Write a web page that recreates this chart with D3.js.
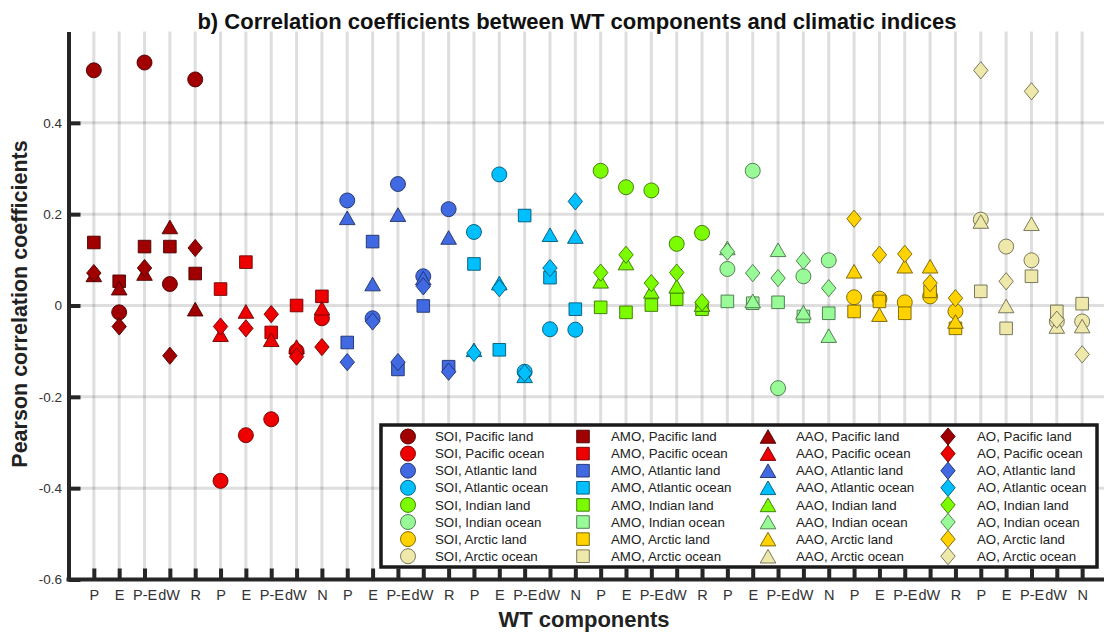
<!DOCTYPE html>
<html>
<head>
<meta charset="utf-8">
<script src="https://cdn.jsdelivr.net/npm/d3@7"></script>
<style>
  html, body { margin: 0; padding: 0; background: #fff; }
  svg { display: block; font-family: "Liberation Sans", Arial, Helvetica, sans-serif; }
</style>
</head>
<body>
<svg id="chart" width="1104" height="632"></svg>
<script>
// ---------- data ----------
const regions = ["Pacific land", "Pacific ocean", "Atlantic land", "Atlantic ocean",
                 "Indian land", "Indian ocean", "Arctic land", "Arctic ocean"];
const regionColors = ["#a00000", "#ee0000", "#4169e1", "#00bfff",
                      "#7cfc00", "#98fb98", "#ffd200", "#eee8aa"];
const landComponents = ["P", "E", "P-E", "dW", "R"];
const oceanComponents = ["P", "E", "P-E", "dW", "N"];
const indices = ["SOI", "AMO", "AAO", "AO"];
const yTicks = [-0.6, -0.4, -0.2, 0, 0.2, 0.4];

// values per region (rows) and component (columns)
const soiValues = [
  [0.515, -0.015, 0.532, 0.047, 0.495],
  [-0.384, -0.284, -0.249, -0.100, -0.028],
  [0.230, -0.028, 0.266, 0.064, 0.211],
  [0.161, 0.287, -0.145, -0.052, -0.053],
  [0.295, 0.259, 0.252, 0.135, 0.159],
  [0.080, 0.295, -0.181, 0.064, 0.099],
  [0.018, 0.015, 0.007, 0.020, -0.013],
  [0.188, 0.129, 0.099, -0.035, -0.035]
];
const amoValues = [
  [0.138, 0.053, 0.129, 0.129, 0.070],
  [0.036, 0.095, -0.059, 0.000, 0.020],
  [-0.081, 0.140, -0.140, -0.001, -0.134],
  [0.091, -0.097, 0.197, 0.061, -0.008],
  [-0.004, -0.015, 0.001, 0.014, -0.008],
  [0.009, 0.005, 0.007, -0.024, -0.017],
  [-0.013, 0.009, -0.017, 0.031, -0.050],
  [0.031, -0.050, 0.064, -0.013, 0.004]
];
const aaoValues = [
  [0.067, 0.038, 0.070, 0.172, -0.008],
  [-0.064, -0.013, -0.075, -0.090, -0.006],
  [0.192, 0.047, 0.199, 0.060, 0.149],
  [-0.097, 0.049, -0.154, 0.155, 0.151],
  [0.053, 0.093, 0.031, 0.042, 0.002],
  [0.126, 0.010, 0.122, -0.015, -0.066],
  [0.075, -0.020, 0.086, 0.086, -0.035],
  [0.184, -0.001, 0.179, -0.046, -0.045]
];
const aoValues = [
  [0.071, -0.046, 0.082, -0.110, 0.126],
  [-0.046, -0.050, -0.019, -0.112, -0.091],
  [-0.124, -0.035, -0.124, 0.042, -0.145],
  [-0.104, 0.038, -0.148, 0.082, 0.228],
  [0.072, 0.111, 0.049, 0.072, 0.007],
  [0.118, 0.071, 0.060, 0.098, 0.038],
  [0.190, 0.111, 0.113, 0.049, 0.016],
  [0.515, 0.053, 0.469, -0.031, -0.107]
];
const allValues = [soiValues, amoValues, aaoValues, aoValues];

// ---------- layout ----------
const svg = d3.select("#chart");
const nCols = regions.length * 5;
const x = d3.scaleLinear().domain([0, nCols + 1]).range([68.5, 1107.5]);
const y = d3.scaleLinear().domain([-0.6, 0.6]).range([579.5, 31.5]);
const step = x(1) - x(0);

const tickLabels = [];
regions.forEach((r, ri) => {
  const comps = ri % 2 === 0 ? landComponents : oceanComponents;
  comps.forEach(c => tickLabels.push(c));
});
const colIdx = d3.range(1, nCols + 1);

// grid
const grid = svg.append("g");
grid.selectAll("line.v").data(colIdx).join("line")
  .attr("x1", d => x(d)).attr("x2", d => x(d))
  .attr("y1", y(0.6)).attr("y2", y(-0.6))
  .attr("stroke", "rgba(0,0,0,0.13)").attr("stroke-width", 3);
grid.selectAll("line.h").data(yTicks.filter(t => t > -0.6)).join("line")
  .attr("x1", x(0)).attr("x2", 1104)
  .attr("y1", d => y(d)).attr("y2", d => y(d))
  .attr("stroke", "rgba(0,0,0,0.13)").attr("stroke-width", 3);

// axes
const axisColor = "#262626";
const yAxis = d3.axisLeft(y).tickValues(yTicks).tickSizeInner(-12).tickSizeOuter(0)
  .tickPadding(6.5).tickFormat(d => d === 0 ? "0" : d.toFixed(1));
const gy = svg.append("g").attr("transform", `translate(${x(0)},0)`).call(yAxis);
gy.select(".domain").attr("stroke", axisColor).attr("stroke-width", 4);
gy.selectAll(".tick line").attr("stroke", axisColor).attr("stroke-width", 4);
gy.selectAll(".tick text").attr("fill", "#333").style("font-size", "13.5px")
  .style("font-family", "'Liberation Sans', Arial, sans-serif");

const xAxis = d3.axisBottom(x).tickValues(colIdx).tickSizeInner(-11).tickSizeOuter(0)
  .tickPadding(10).tickFormat((d) => tickLabels[d - 1]);
const gx = svg.append("g").attr("transform", `translate(0,${y(-0.6)})`).call(xAxis);
gx.select(".domain").attr("stroke", axisColor).attr("stroke-width", 4)
  .attr("d", `M${x(0) - 2},0H1104`);
gx.selectAll(".tick line").attr("stroke", axisColor).attr("stroke-width", 4);
gx.selectAll(".tick text").attr("fill", "#333").style("font-size", "14.5px")
  .style("font-family", "'Liberation Sans', Arial, sans-serif")
  .each(function (d) {
    const lab = tickLabels[d - 1];
    const t = d3.select(this);
    if (lab === "P-E") t.attr("text-anchor", "end").attr("x", step / 2 - 0.5);
    else if (lab === "dW") t.attr("text-anchor", "start").attr("x", -step / 2 + 0.5);
  });

// ---------- markers ----------
function markerPath(kind) {
  if (kind === 0) { // circle
    return d3.symbol(d3.symbolCircle, Math.PI * 7.5 * 7.5)();
  } else if (kind === 1) { // square
    const h = 6.3;
    return `M${-h},${-h}H${h}V${h}H${-h}Z`;
  } else if (kind === 2) { // triangle
    const w = 7.8, h = 6.8;
    return `M0,${-h}L${w},${h}L${-w},${h}Z`;
  } else { // diamond
    const w = 7.2, h = 8.6;
    return `M0,${-h}L${w},0L0,${h}L${-w},0Z`;
  }
}
function darker(c) { return d3.color(c).darker(2.2).formatHex(); }

const points = [];
allValues.forEach((vals, k) => {
  vals.forEach((row, ri) => {
    row.forEach((v, j) => {
      points.push({ kind: k, region: ri, col: ri * 5 + j + 1, value: v });
    });
  });
});
svg.append("g").selectAll("path").data(points).join("path")
  .attr("d", d => markerPath(d.kind))
  .attr("transform", d => `translate(${x(d.col)},${y(d.value)})`)
  .attr("fill", d => regionColors[d.region])
  .attr("stroke", d => darker(regionColors[d.region]))
  .attr("stroke-width", 0.9);

// ---------- legend ----------
const legend = svg.append("g");
legend.append("rect").attr("x", 381).attr("y", 425).attr("width", 716).attr("height", 142)
  .attr("fill", "#fff").attr("stroke", "#1a1a1a").attr("stroke-width", 3.5);
const legendColX = [408, 583, 768, 948];
const legendTextX = [435, 611, 796, 977];
const legendItems = [];
indices.forEach((ind, k) => {
  regions.forEach((r, ri) => {
    legendItems.push({ kind: k, region: ri, label: `${ind}, ${r}` });
  });
});
const li = legend.selectAll("g.item").data(legendItems).join("g")
  .attr("transform", d => `translate(0,${436.5 + d.region * 17.1})`);
li.append("path")
  .attr("d", d => markerPath(d.kind))
  .attr("transform", d => `translate(${legendColX[d.kind]},0)`)
  .attr("fill", d => regionColors[d.region])
  .attr("stroke", d => darker(regionColors[d.region]))
  .attr("stroke-width", 0.9);
li.append("text")
  .attr("x", d => legendTextX[d.kind]).attr("y", 0).attr("dy", "0.35em")
  .attr("fill", "#222").style("font-size", "13.3px")
  .text(d => d.label);

// ---------- titles ----------
svg.append("text").attr("x", 577).attr("y", 28.5).attr("text-anchor", "middle")
  .style("font-size", "22px").style("font-weight", "bold").attr("fill", "#111")
  .text("b) Correlation coefficients between WT components and climatic indices");
svg.append("text").attr("x", 584).attr("y", 627).attr("text-anchor", "middle")
  .style("font-size", "22px").style("font-weight", "bold").attr("fill", "#222")
  .text("WT components");
svg.append("text").attr("transform", "translate(27,304) rotate(-90)").attr("text-anchor", "middle")
  .style("font-size", "21.5px").style("font-weight", "bold").attr("fill", "#222")
  .text("Pearson correlation coefficients");
</script>
</body>
</html>
